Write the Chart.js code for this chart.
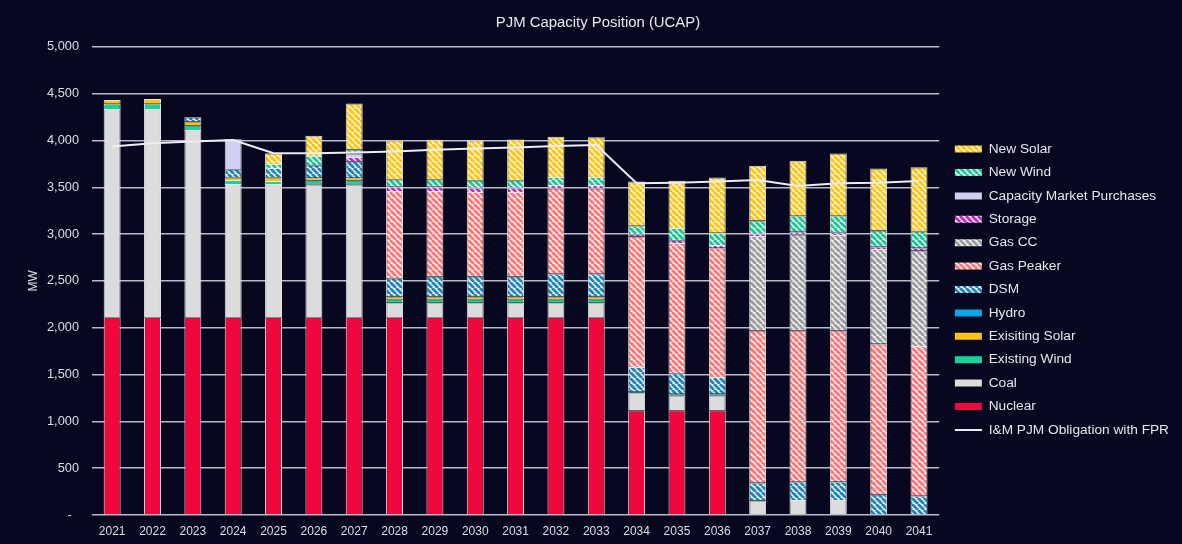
<!DOCTYPE html>
<html>
<head>
<meta charset="utf-8">
<script src="https://cdn.jsdelivr.net/npm/chart.js@4.4.0/dist/chart.umd.min.js"></script>
<style>
  html, body { margin: 0; padding: 0; background: #070720; }
  #wrap { width: 1182px; height: 544px; }
</style>
</head>
<body>
<div id="wrap"><canvas id="capChart" width="1182" height="544"></canvas></div>
<script>
// Anos
const years = ['2021','2022','2023','2024','2025','2026','2027','2028','2029','2030','2031',
               '2032','2033','2034','2035','2036','2037','2038','2039','2040','2041'];

// MW (UCAP) por recurso
const nuclear      = [2112,2112,2112,2112,2112,2112,2112,2112,2112,2112,2112,2112,2112,1115,1115,1115,0,0,0,0,0];
const coal         = [2225,2225,2000,1424,1424,1420,1420,156,156,156,156,156,156,190,165,165,155,160,160,0,0];
const existingWind = [55,55,47,43,32,40,40,37,37,37,37,37,37,15,15,15,0,0,0,0,0];
const existingSolar= [40,52,45,28,40,30,30,28,28,28,28,28,28,0,0,0,0,0,0,0,0];
const hydro        = [0,0,0,0,0,0,0,0,0,0,0,0,0,0,0,0,0,0,0,0,0];
const dsm          = [0,0,45,86,99,133,173,197,214,214,214,243,243,260,220,180,190,195,195,220,205];
const gasPeaker    = [0,0,0,0,0,0,0,931,914,903,903,915,915,1395,1390,1380,1625,1615,1615,1610,1600];
const gasCC        = [0,0,0,0,0,0,0,0,0,0,0,0,0,0,0,0,1010,1025,1020,1010,1020];
const storage      = [0,0,0,0,0,0,50,45,45,45,45,35,35,25,30,30,25,30,30,25,30];
const capMarket    = [0,0,0,321,0,0,35,0,0,0,0,0,0,0,0,0,0,0,0,0,0];
const newWind      = [0,0,0,0,43,100,45,80,80,80,80,85,85,90,130,130,140,170,175,175,175];
const newSolar     = [0,0,0,0,114,215,490,415,421,428,435,430,425,471,505,590,585,590,665,660,685];
const obligation   = [3935,3971,3990,4006,3864,3864,3871,3882,3900,3915,3925,3940,3953,
                      3544,3550,3561,3579,3515,3544,3550,3568];

const yTicks = [0,500,1000,1500,2000,2500,3000,3500,4000,4500,5000];

const FONT = 'Liberation Sans, Arial, sans-serif';

// padrão listrado (hachura) como no Excel
function hatch(color) {
    const s = 6;
    const c = document.createElement('canvas');
    c.width = s; c.height = s;
    const g = c.getContext('2d');
    g.fillStyle = '#f2f2f4';
    g.fillRect(0, 0, s, s);
    g.strokeStyle = color;
    g.lineWidth = 2.8;
    g.beginPath();
    for (let o = -s; o <= s; o += s) {
        g.moveTo(o, 0);
        g.lineTo(o + s, s);
    }
    g.stroke();
    return g.createPattern(c, 'repeat');
}

function barSet(label, data, fill) {
    return {
        type: 'bar',
        label: label,
        data: data,
        backgroundColor: fill,
        borderColor: '#e4e4ea',
        borderWidth: (ctx) => (ctx.raw ? 1 : 0),
        stack: 'cap'
    };
}

document.addEventListener('DOMContentLoaded', function() {
    const ctx = document.getElementById('capChart').getContext('2d');

    const datasets = [
        {
            type: 'line',
            label: 'I&M PJM Obligation with FPR',
            data: obligation,
            borderColor: '#ececf2',
            backgroundColor: '#ececf2',
            borderWidth: 2,
            pointRadius: 0,
            tension: 0,
            stack: 'obl'
        },
        barSet('Nuclear', nuclear, '#f0073d'),
        barSet('Coal', coal, '#dcdcdc'),
        barSet('Existing Wind', existingWind, '#18d39b'),
        barSet('Exisiting Solar', existingSolar, '#ffc20e'),
        barSet('Hydro', hydro, '#0aa6e6'),
        barSet('DSM', dsm, hatch('#1d86b8')),
        barSet('Gas Peaker', gasPeaker, hatch('#ff7676')),
        barSet('Gas CC', gasCC, hatch('#9d9d9d')),
        barSet('Storage', storage, hatch('#c02cc0')),
        barSet('Capacity Market Purchases', capMarket, '#cfd0f2'),
        barSet('New Wind', newWind, hatch('#16c993')),
        barSet('New Solar', newSolar, hatch('#ffc800'))
    ];

    new Chart(ctx, {
        data: { labels: years, datasets: datasets },
        options: {
            responsive: false,
            animation: false,
            datasets: {
                bar: { barPercentage: 0.42, categoryPercentage: 1.0 }
            },
            layout: { padding: { left: 17, right: 3, bottom: 7, top: 0 } },
            plugins: {
                title: {
                    display: true,
                    text: 'PJM Capacity Position (UCAP)',
                    color: '#e8e8ee',
                    font: { family: FONT, size: 14.9, weight: 'normal' },
                    padding: { top: 14, bottom: 15 }
                },
                legend: {
                    position: 'right',
                    reverse: true,
                    maxWidth: 320,
                    title: {
                        display: true,
                        text: ' ',
                        font: { size: 10 },
                        padding: { top: 30, bottom: 0 }
                    },
                    labels: {
                        color: '#e6e6ec',
                        font: { family: FONT, size: 13.7 },
                        usePointStyle: true,
                        pointStyleWidth: 27,
                        boxHeight: 7,
                        padding: 9.7,
                        generateLabels: function(chart) {
                            return chart.data.datasets.map(function(ds, i) {
                                const isLine = ds.type === 'line';
                                return {
                                    text: ds.label,
                                    fillStyle: ds.backgroundColor,
                                    strokeStyle: isLine ? ds.borderColor : 'rgba(0,0,0,0)',
                                    lineWidth: isLine ? 2 : 0,
                                    pointStyle: isLine ? 'line' : 'rect',
                                    fontColor: '#e6e6ec',
                                    hidden: false,
                                    datasetIndex: i
                                };
                            });
                        }
                    }
                },
                tooltip: { enabled: false }
            },
            scales: {
                x: {
                    stacked: true,
                    grid: { display: false, drawTicks: false },
                    border: { display: false },
                    afterFit: function(scale) { scale.height = 22; },
                    ticks: {
                        color: '#dedee6',
                        font: { family: FONT, size: 12 },
                        padding: 9,
                        maxRotation: 0
                    }
                },
                y: {
                    stacked: true,
                    min: 0,
                    max: 5000,
                    afterBuildTicks: function(axis) {
                        axis.ticks = yTicks.map(v => ({ value: v }));
                    },
                    afterFit: function(scale) { scale.width = 75; },
                    grid: {
                        color: 'rgba(205,205,218,0.9)',
                        lineWidth: 1.6,
                        drawTicks: false
                    },
                    border: { display: false },
                    ticks: {
                        color: '#dedee6',
                        font: { family: FONT, size: 12.8 },
                        padding: 13,
                        callback: function(v) {
                            return v === 0 ? '-\u2007' : v.toLocaleString('en-US');
                        }
                    },
                    title: {
                        display: true,
                        text: 'MW',
                        color: '#dedee6',
                        font: { family: FONT, size: 12 },
                        padding: { top: 9, bottom: 6 }
                    }
                },
                // eixo vazio só para afastar a área do gráfico da legenda
                y2: {
                    position: 'right',
                    display: true,
                    grid: { display: false, drawTicks: false },
                    border: { display: false },
                    ticks: { display: false },
                    afterFit: function(scale) { scale.width = 6; }
                }
            }
        }
    });
});
</script>
</body>
</html>
